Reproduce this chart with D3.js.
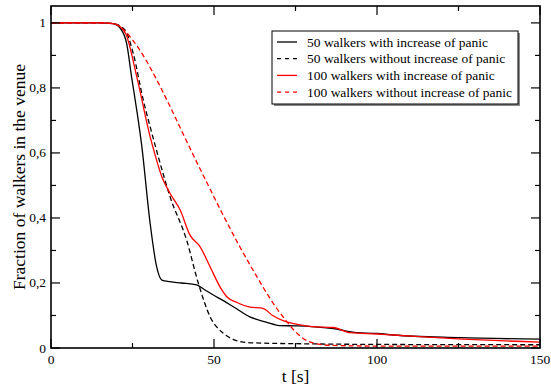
<!DOCTYPE html>
<html>
<head>
<meta charset="utf-8">
<script src="https://cdn.jsdelivr.net/npm/d3@7"></script>
<style>
  body { margin: 0; background: #fff; }
  text { font-family: "Liberation Serif", "Times New Roman", serif; fill: #000; }
</style>
</head>
<body>
<div id="chart"></div>
<script>
// data (t in seconds, fraction in venue)
const t50panic = [0, 15, 19, 21.2, 23.2, 24.7, 26.3, 27.8, 30.4, 32.4, 34, 36.5, 40, 44.7, 47, 49.8, 53, 55.9, 61, 66.2, 70, 75.5, 80, 86.6, 93.8, 100, 105, 125, 150];
const f50panic = [1, 1, 0.998, 0.984, 0.937, 0.835, 0.732, 0.625, 0.384, 0.25, 0.209, 0.204, 0.2, 0.194, 0.18, 0.163, 0.145, 0.127, 0.096, 0.079, 0.069, 0.068, 0.066, 0.06, 0.047, 0.045, 0.04, 0.032, 0.027];

const t50calm = [0, 15, 19, 22.7, 25.2, 28.3, 30.4, 32.9, 36.5, 41.6, 45.2, 48.8, 52.9, 56, 59, 65, 77, 100, 150];
const f50calm = [1, 1, 0.998, 0.978, 0.907, 0.763, 0.681, 0.589, 0.466, 0.332, 0.199, 0.096, 0.045, 0.026, 0.018, 0.015, 0.013, 0.011, 0.01];

const t100panic = [0, 15, 19, 21, 23, 26.3, 30.4, 31.9, 34, 36.5, 39.6, 42.6, 45.7, 48.8, 51.8, 54, 57, 61, 65, 68, 71.2, 76.4, 80, 86.6, 91.7, 100, 105, 125, 150];
const f100panic = [1, 1, 0.998, 0.99, 0.965, 0.835, 0.65, 0.595, 0.527, 0.476, 0.425, 0.348, 0.312, 0.25, 0.189, 0.157, 0.14, 0.126, 0.122, 0.1, 0.084, 0.071, 0.066, 0.063, 0.047, 0.043, 0.04, 0.028, 0.018];

const t100calm = [0, 15, 19, 21, 23, 25, 27, 29, 31, 33, 35, 37, 40, 43, 48, 53, 58, 63, 68, 72, 75, 77, 79, 82, 86, 100, 150];
const f100calm = [1, 1, 0.998, 0.99, 0.972, 0.948, 0.92, 0.888, 0.852, 0.814, 0.774, 0.733, 0.67, 0.607, 0.505, 0.405, 0.31, 0.222, 0.14, 0.085, 0.05, 0.032, 0.02, 0.012, 0.008, 0.006, 0.006];

const seriesNames = ["50 walkers with increase of panic", "50 walkers without increase of panic",
                     "100 walkers with increase of panic", "100 walkers without increase of panic"];
const seriesColors = ["#000000", "#000000", "#ff0000", "#ff0000"];
const seriesDashed = [false, true, false, true];

const xTicks = [0, 50, 100, 150];
const yTicks = [0, 0.2, 0.4, 0.6, 0.8, 1];
const yTickLabels = ["0", "0,2", "0,4", "0,6", "0,8", "1"];

const series = [
  d3.zip(t50panic, f50panic),
  d3.zip(t50calm, f50calm),
  d3.zip(t100panic, f100panic),
  d3.zip(t100calm, f100calm)
];

const W = 551, H = 387;
const margin = {top: 6, right: 11, bottom: 39, left: 51},
      width = W - margin.left - margin.right,
      height = H - margin.top - margin.bottom;

const svg = d3.select("#chart").append("svg")
    .attr("width", W).attr("height", H);
const g = svg.append("g")
    .attr("transform", `translate(${margin.left},${margin.top})`);

const x = d3.scaleLinear().domain([0, 150]).range([0, width]);
const y = d3.scaleLinear().domain([0, 1.052]).range([height, 0]);

// lines
const line = d3.line()
    .x(d => x(d[0]))
    .y(d => y(d[1]))
    .curve(d3.curveMonotoneX);

g.selectAll(".series")
  .data(series)
  .join("path")
    .attr("fill", "none")
    .attr("stroke", (d, i) => seriesColors[i])
    .attr("stroke-width", 1.3)
    .attr("stroke-dasharray", (d, i) => seriesDashed[i] ? "5,3" : null)
    .attr("d", line);

// ticks (inward, on all four sides)
const majorX = xTicks, minorX = [25, 75, 125];
const majorY = yTicks, minorY = [0.1, 0.3, 0.5, 0.7, 0.9];
const tickG = g.append("g").attr("stroke", "#000").attr("stroke-width", 1.2);
[[majorX, 9], [minorX, 5]].forEach(([vals, len]) => {
  tickG.selectAll(null).data(vals).join("line")
    .attr("x1", d => x(d)).attr("x2", d => x(d))
    .attr("y1", height).attr("y2", height - len);
  tickG.selectAll(null).data(vals).join("line")
    .attr("x1", d => x(d)).attr("x2", d => x(d))
    .attr("y1", 0).attr("y2", len);
});
[[majorY, 9], [minorY, 5]].forEach(([vals, len]) => {
  tickG.selectAll(null).data(vals).join("line")
    .attr("x1", 0).attr("x2", len)
    .attr("y1", d => y(d)).attr("y2", d => y(d));
  tickG.selectAll(null).data(vals).join("line")
    .attr("x1", width).attr("x2", width - len)
    .attr("y1", d => y(d)).attr("y2", d => y(d));
});

// frame
g.append("rect")
    .attr("width", width).attr("height", height)
    .attr("fill", "none").attr("stroke", "#000").attr("stroke-width", 1.6);

// tick labels
g.selectAll(".xl").data(xTicks).join("text")
    .attr("x", d => x(d)).attr("y", height + 16)
    .attr("text-anchor", "middle")
    .style("font-size", "13.5px")
    .text(d => d);
g.selectAll(".yl").data(yTicks).join("text")
    .attr("x", -5).attr("y", (d, i) => y(d) + 4.5)
    .attr("text-anchor", "end")
    .style("font-size", "13.5px")
    .text((d, i) => yTickLabels[i]);

// axis titles
svg.append("text")
    .attr("x", margin.left + width / 2).attr("y", H - 5)
    .attr("text-anchor", "middle")
    .style("font-size", "17.5px")
    .text("t [s]");
svg.append("text")
    .attr("transform", `translate(25,${margin.top + height / 2}) rotate(-90)`)
    .attr("text-anchor", "middle")
    .style("font-size", "17.5px")
    .text("Fraction of walkers in the venue");

// legend
const lg = svg.append("g").attr("transform", "translate(272,31)");
lg.append("rect").attr("x", 2).attr("y", 2).attr("width", 246).attr("height", 73).attr("fill", "#888");
lg.append("rect").attr("width", 246).attr("height", 73).attr("fill", "#fff")
    .attr("stroke", "#000").attr("stroke-width", 1);
seriesNames.forEach((name, i) => {
  const yy = 11 + i * 16.7;
  lg.append("line")
      .attr("x1", 5).attr("x2", 25).attr("y1", yy).attr("y2", yy)
      .attr("stroke", seriesColors[i]).attr("stroke-width", 1.3)
      .attr("stroke-dasharray", seriesDashed[i] ? "4,4" : null);
  lg.append("text")
      .attr("x", 35).attr("y", yy + 4.5)
      .style("font-size", "13.5px")
      .text(name);
});
</script>
</body>
</html>
